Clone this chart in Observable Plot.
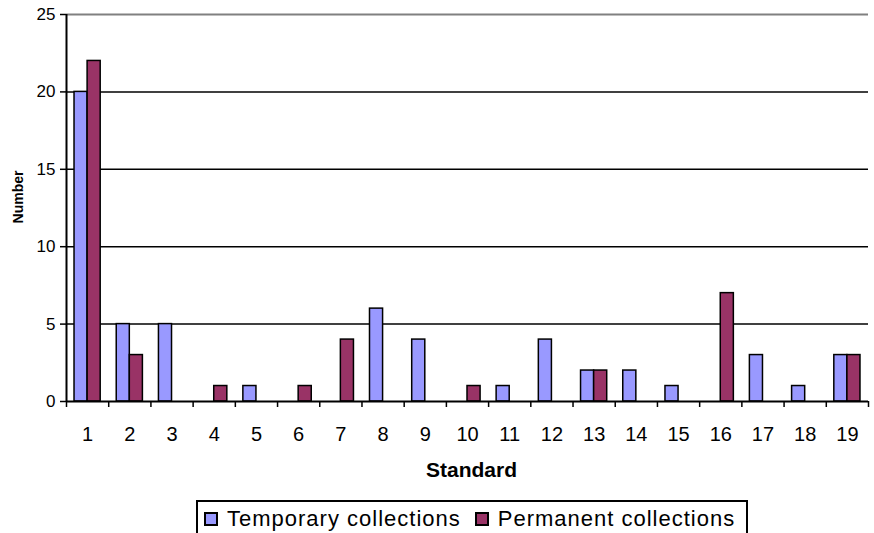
<!DOCTYPE html>
<html>
<head>
<meta charset="utf-8">
<script src="https://cdn.jsdelivr.net/npm/d3@7"></script>
<script src="https://cdn.jsdelivr.net/npm/@observablehq/plot@0.6"></script>
<style>
  html, body { margin: 0; padding: 0; background: #fff; }
  body { font-family: "Liberation Sans", Arial, sans-serif; width: 874px; height: 533px; position: relative; overflow: hidden; }
  #chart { position: absolute; left: 0; top: 0; }
  #legend { position: absolute; left: 196px; top: 500px; width: 552px; height: 40px; border: 2px solid #000; box-sizing: border-box; display: flex; align-items: flex-start; padding-top: 4px; padding-left: 6px; font-size: 22px; letter-spacing: 1px; color: #000; white-space: nowrap; }
  .item { display: flex; align-items: center; margin-right: 14px; }
  .sw { width: 14px; height: 14px; border: 2px solid #000; box-sizing: border-box; margin-right: 9px; }
</style>
</head>
<body>
<div id="chart"></div>
<div id="legend"></div>
<script>
const standards = [1, 2, 3, 4, 5, 6, 7, 8, 9, 10, 11, 12, 13, 14, 15, 16, 17, 18, 19];
const temporary = [20, 5, 5, 0, 1, 0, 0, 6, 4, 0, 1, 4, 2, 2, 1, 0, 3, 1, 3];
const permanent = [22, 3, 0, 1, 0, 1, 4, 0, 0, 1, 0, 0, 2, 0, 0, 7, 0, 0, 3];
const seriesNames = ["Temporary collections", "Permanent collections"];
const seriesColors = ["#9999FF", "#993366"];
const yTicks = [0, 5, 10, 15, 20, 25];
const xLabel = "Standard";
const yLabel = "Number";

const half = 0.31; // half group width, as a fraction of a category band
const rows = [];
standards.forEach((s, i) => {
  rows.push({standard: s, series: seriesNames[0], value: temporary[i], x1: s - half, x2: s});
  rows.push({standard: s, series: seriesNames[1], value: permanent[i], x1: s, x2: s + half});
});
const bars = rows.filter(d => d.value > 0);
const boundaries = standards.map(s => s - 0.5).concat([standards[standards.length - 1] + 0.5]);

const chart = Plot.plot({
  width: 874,
  height: 490,
  marginLeft: 66,
  marginRight: 6,
  marginTop: 14,
  marginBottom: 89,
  style: {fontFamily: '"Liberation Sans", Arial, sans-serif', color: "#000", background: "#fff"},
  x: {type: "linear", domain: [0.5, 19.5]},
  y: {domain: [0, 25]},
  color: {domain: seriesNames, range: seriesColors},
  marks: [
    Plot.ruleY(yTicks.filter(t => t > 0 && t < 25), {stroke: "#000", strokeWidth: 1.5}),
    Plot.ruleY([25], {stroke: "#808080", strokeWidth: 2}),
    Plot.rectY(bars, {x1: "x1", x2: "x2", y: "value", fill: "series", stroke: "#000", strokeWidth: 1.5}),
    Plot.ruleX([0.5], {stroke: "#000", strokeWidth: 2}),
    Plot.ruleY([0], {stroke: "#000", strokeWidth: 2}),
    Plot.axisY({ticks: yTicks, tickSize: 6, tickPadding: 5, fontSize: 17, label: null, strokeWidth: 1.5}),
    Plot.axisX({ticks: boundaries, tickSize: 6, tickFormat: () => "", label: null, strokeWidth: 1.5}),
    Plot.axisX({ticks: standards, tickSize: 0, tickPadding: 25, fontSize: 20, tickFormat: d => String(d), label: null}),
    Plot.text([yLabel], {frameAnchor: "left", textAnchor: "middle", lineAnchor: "middle", rotate: -90, dx: -48, dy: -11, fontSize: 14, fontWeight: "bold", fill: "#000"}),
    Plot.text([xLabel], {frameAnchor: "bottom", textAnchor: "middle", lineAnchor: "middle", dx: 4, dy: 69, fontSize: 21, fontWeight: "bold", fill: "#000"})
  ]
});
document.getElementById("chart").appendChild(chart);

const legend = document.getElementById("legend");
seriesNames.forEach((name, i) => {
  const item = document.createElement("div");
  item.className = "item";
  const sw = document.createElement("div");
  sw.className = "sw";
  sw.style.background = seriesColors[i];
  const t = document.createElement("span");
  t.textContent = name;
  item.appendChild(sw);
  item.appendChild(t);
  legend.appendChild(item);
});
</script>
</body>
</html>
